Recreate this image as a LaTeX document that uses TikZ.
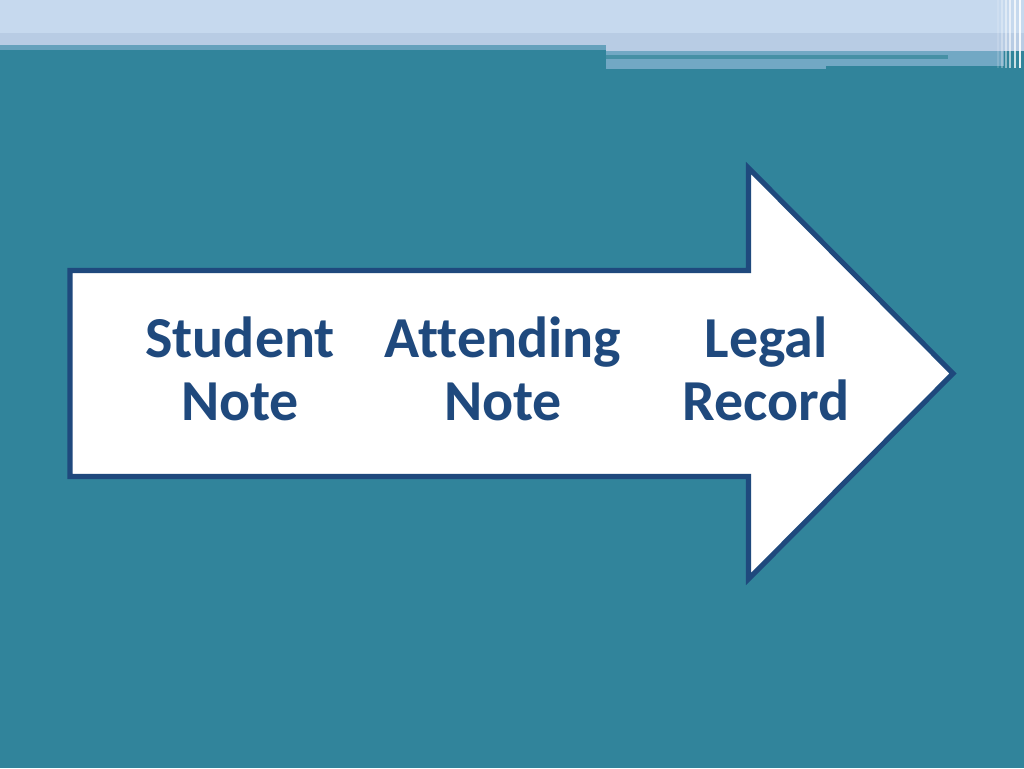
\documentclass[tikz,border=0pt]{standalone}
\usepackage{fontspec}
\setmainfont[Ligatures={NoCommon}]{Carlito}
\definecolor{slidebg}{HTML}{31849B}
\definecolor{topband}{HTML}{C6D9EE}
\definecolor{midband}{HTML}{B8CCE4}
\definecolor{stripe}{HTML}{72A8C4}
\definecolor{edgeblue}{HTML}{1F497D}
\tikzset{
  steptext/.style={font=\fontsize{33}{36}\selectfont\bfseries,text=edgeblue,align=center},
  arrowbody/.style={draw=edgeblue,line width=2.9pt,fill=white,line join=miter}
}

\begin{document}
\begin{tikzpicture}[x=0.02cm,y=-0.02cm]
\useasboundingbox (0,0) rectangle (1024,768);
\fill[slidebg] (0,0) rectangle (1024,768);

\fill[topband] (0,0) rectangle (1024,33);
\fill[midband] (0,33) rectangle (606,45);
\fill[midband] (606,33) rectangle (1024,51);
\fill[stripe!80!slidebg] (0,45) rectangle (606,50);
\fill[stripe] (606,51) rectangle (1004,55);
\fill[slidebg!90!white] (606,55) rectangle (948,59);
\fill[stripe] (948,55) rectangle (1004,66);
\fill[stripe] (606,59) rectangle (826,69);
\fill[stripe] (826,59) rectangle (1004,66);
\foreach [count=\i] \x in {997,1001,1005,1009,1014,1019}
   \fill[white,opacity=0.15*\i] (\x,0) rectangle ++(1.5,68);

\coordinate (tail top) at (70,270.5);
\coordinate (head top) at (748.5,168);
\coordinate (tip) at (953,373.5);
\draw[arrowbody] (tail top) -- (tail top -| head top) -- (head top) -- (tip)
   -- (748.5,579) -- (748.5,476.5) -- (70,476.5) -- cycle;

\node[steptext] (student) at (240,369) {Student\\Note};
\node[steptext] (attending) at (503,369) {Attending\\Note};
\node[steptext] (legal) at (766,369) {Legal\\Record};
\end{tikzpicture}
\end{document}
